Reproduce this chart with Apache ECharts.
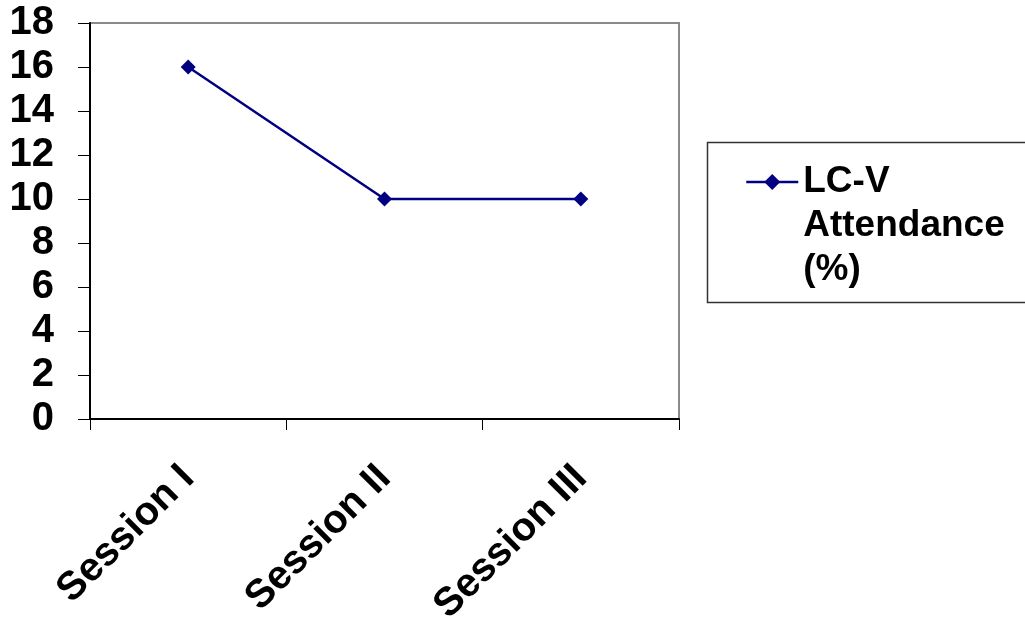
<!DOCTYPE html>
<html>
<head>
<meta charset="utf-8">
<script src="https://cdn.jsdelivr.net/npm/echarts@6/dist/echarts.min.js"></script>
<style>html,body{margin:0;padding:0;background:#fff;}#chart{width:1025px;height:617px;}</style>
</head>
<body>
<div id="chart"></div>
<script>
const categories = ['Session I', 'Session II', 'Session III'];
const seriesName = 'LC-V Attendance (%)';
const attendance = [16, 10, 10];
const yTicks = { min: 0, max: 18, interval: 2 };

const FONT = "'Liberation Sans', Arial, sans-serif";
const chart = echarts.init(document.getElementById('chart'), null, { renderer: 'canvas' });
chart.setOption({
  backgroundColor: '#fff',
  animation: false,
  grid: { left: 90, right: 346, top: 23, bottom: 198, show: true, borderColor: '#8a8a8a', borderWidth: 2, backgroundColor: 'transparent', containLabel: false, outerBoundsMode: 'none' },
  graphic: [{
    type: 'rect', left: 705, top: 140, z: 0,
    shape: { width: 330, height: 160 },
    style: { fill: 'none', stroke: '#333', lineWidth: 1.5 }
  }],
  legend: {
    left: 745, top: 72, padding: 0,
    itemWidth: 52, itemHeight: 20, itemGap: 5,
    formatter: function () { return '\n\nLC-V\nAttendance\n(%)'; },
    lineStyle: { width: 2.5 },
    textStyle: { fontFamily: FONT, fontWeight: 'bold', fontSize: 37, color: '#000', lineHeight: 44 },
    data: [seriesName]
  },
  xAxis: {
    type: 'category', data: categories, boundaryGap: true,
    axisLine: { show: true, lineStyle: { color: '#000', width: 2 } },
    axisTick: { show: true, length: 11, lineStyle: { color: '#000', width: 1 } },
    axisLabel: { rotate: 45, margin: 53, fontFamily: FONT, fontWeight: 'bold', fontSize: 40, color: '#000', interval: 0 },
    splitLine: { show: false }
  },
  yAxis: {
    type: 'value', min: yTicks.min, max: yTicks.max, interval: yTicks.interval,
    axisLine: { show: true, lineStyle: { color: '#000', width: 2 } },
    axisTick: { show: true, length: 12, lineStyle: { color: '#000', width: 1 } },
    axisLabel: { margin: 36, fontFamily: FONT, fontWeight: 'bold', fontSize: 40, color: '#000' },
    splitLine: { show: false }
  },
  series: [{
    name: seriesName, type: 'line', data: attendance,
    symbol: 'diamond', symbolSize: 15,
    lineStyle: { color: '#000080', width: 2.5 },
    itemStyle: { color: '#000080' }
  }]
});
</script>
</body>
</html>
